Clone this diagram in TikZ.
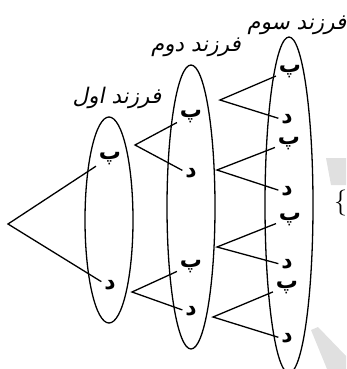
\documentclass[tikz,border=0pt]{standalone}
\usepackage{fontspec}
\usepackage{tikz}
\usetikzlibrary{positioning}
\TeXXeTstate=1
\newfontfamily\arabicfont[Script=Arabic]{DejaVu Sans}
\newfontfamily\titlefont[Script=Arabic,FakeSlant=0.2]{DejaVu Sans}

\begin{document}
\begin{tikzpicture}[
  x=1pt, y=-1pt,
  leaf/.style={inner sep=0pt, outer sep=3pt, text height=9pt, text depth=5pt,
               font=\arabicfont\bfseries\fontsize{22}{22}\selectfont},
  head/.style={inner sep=0pt, text height=12pt, text depth=5pt,
               font=\titlefont\fontsize{21.5}{21.5}\selectfont},
  oval/.style={line width=1.3pt},
  br/.style={line width=1.3pt},
  wmark/.style={fill=black!12, draw=none},
]
\useasboundingbox (0,0) rectangle (346,369);

% ---- faint watermark ----
\fill[wmark] (326,158) -- (346,158) -- (346,185) -- (331,185) -- cycle;
\fill[wmark] (311,330) -- (318,327) -- (346,356) -- (346,369) -- (327,369) -- cycle;
\node[inner sep=0pt, anchor=west, font=\fontsize{26}{26}\selectfont] (brace) at (334,203) {\{};

% ---- ovals ----
\draw[oval] (109,220) ellipse [x radius=24, y radius=103];
\draw[oval] (191,207) ellipse [x radius=24, y radius=142];
\draw[oval] (289,205) ellipse [x radius=24, y radius=168];

% ---- column heads ----
\node[head] (h1) at (117,100) {\beginR فرزند اول\endR};
\node[head] (h2) at (196,48)  {\beginR فرزند دوم\endR};
\node[head] (h3) at (297,26)  {\beginR فرزند سوم\endR};

% ---- first child ----
\coordinate (root) at (8,224);
\node[leaf] (a1) at (110,157) {پ};
\node[leaf] (a2) at (110,287) {د};
\draw[br] (a1) -- (root) -- (a2);

% ---- second child ----
\node[leaf] (b1) at (191,115) {پ};
\node[leaf] (b2) at (191,175) {د};
\node[leaf] (b3) at (191,265) {پ};
\node[leaf] (b4) at (191,313) {د};
\coordinate (ka) at (135,145);
\coordinate (kb) at (132,292);
\draw[br] (b1) -- (ka) -- (b2);
\draw[br] (b3) -- (kb) -- (b4);

% ---- third child ----
\node[leaf] (c1) at (290,70)  {پ};
\node[leaf] (c2) at (287,121) {د};
\node[leaf] (c3) at (289,142) {پ};
\node[leaf] (c4) at (287,193) {د};
\node[leaf] (c5) at (290,218) {پ};
\node[leaf] (c6) at (287,266) {د};
\node[leaf] (c7) at (287,286) {پ};
\node[leaf] (c8) at (287,340) {د};
\coordinate (ma) at (220,100);
\coordinate (mb) at (217,170);
\coordinate (mc) at (217,247);
\coordinate (md) at (213,317);
\draw[br] (c1) -- (ma) -- (c2);
\draw[br] (c3) -- (mb) -- (c4);
\draw[br] (c5) -- (mc) -- (c6);
\draw[br] (c7) -- (md) -- (c8);

\end{tikzpicture}
\end{document}
